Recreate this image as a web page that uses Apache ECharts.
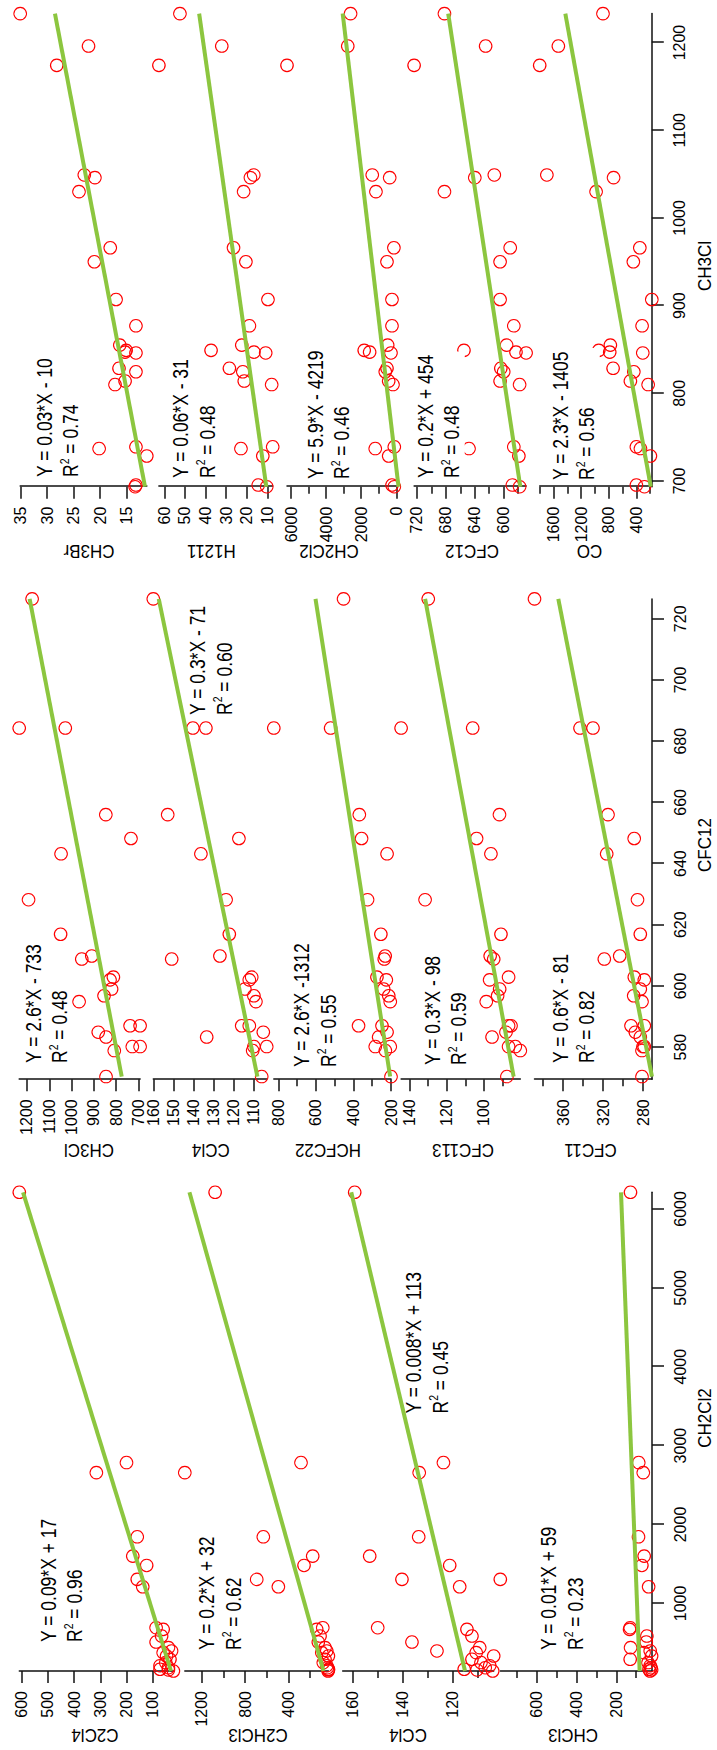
<!DOCTYPE html>
<html>
<head>
<meta charset="utf-8">
<title>Trace gas correlations</title>
<script src="https://cdn.jsdelivr.net/npm/echarts@6/dist/echarts.min.js"></script>
<style>
  html, body { margin: 0; padding: 0; background: #fff; width: 717px; height: 1750px; overflow: hidden; }
  /* the figure is laid out landscape (1750 x 717) and turned a quarter turn counter-clockwise */
  #chart { position: absolute; left: 0; top: 0; width: 1750px; height: 717px;
           transform-origin: 0 0; transform: translate(0, 1750px) rotate(-90deg); }
</style>
</head>
<body>
<div id="chart"></div>
<script>
// ---------------- Column 1: species versus CH2Cl2 ----------------
const ch2cl2 = [6211, 2785, 2658, 1844, 1599, 1481, 1304, 1211, 692, 671, 586, 510, 439, 397, 376, 333, 291, 250, 210, 185, 165, 156, 143];
const c2cl4 = [609, 200, 315, 159, 176, 123, 159, 138, 87, 60, 66, 87, 40, 28, 60, 47, 34, 50, 72, 40, 72, 40, 21];
const c2hcl3 = [1076, 283, 1356, 631, 175, 255, 692, 492, 82, 138, 107, 123, 61, 45, 91, 30, 61, 77, 45, 38, 30, 30, 33];
const ccl4VsCh2cl2 = [159.2, 123.7, 133.4, 133.6, 153.2, 121.2, 140.3, 117.2, 150, 114.3, 112.3, 136.3, 109.2, 126.3, 110.6, 103.6, 112.3, 108.7, 105.2, 107, 115.4, 110.3, 104];
const chcl3 = [128.5, 87, 64, 88, 59.5, 71, 785, 37, 130, 133, 46, 49, 128, 29, 60, 22, 130, 40, 29, 25, 35, 22, 30];

// ---------------- Column 2: species versus CFC12 ----------------
const cfc12 = [726.5, 684.3, 684.3, 656, 648.2, 643.2, 628.2, 616.9, 609.8, 608.8, 602.9, 602, 599, 596.8, 594.9, 587, 587, 584.9, 583.3, 580.2, 580.2, 578.9, 570.4];
const ch3clVsCfc12 = [1177, 1235, 1028, 846, 733, 1047, 1193, 1049, 909, 954, 812, 827, 820, 854, 966, 737, 692, 880, 845, 727, 692, 808, 845];
const ccl4VsCfc12 = [160, 140.2, 133.7, 152.8, 117.2, 136.2, 123.6, 122, 126.7, 150.8, 110.8, 112, 114.2, 109.7, 108.7, 115.8, 112, 105, 133.3, 109.7, 103.3, 110.3, 105.8];
const hcfc22 = [453, 825, 522, 369, 357, 221, 325, 254, 231, 236, 275, 225, 239, 212, 204, 373, 248, 221, 266, 204, 284, 230, 200];
const cfc113 = [129.9, 144.5, 106, 91.6, 103.9, 96.2, 131.6, 90.8, 96.6, 94.7, 86.7, 96.9, 91.5, 92.6, 98.7, 85.4, 86.7, 88.1, 95.6, 86.7, 83.1, 80.4, 87.6];
const cfc11 = [388.5, 343, 330, 315, 288.8, 316.3, 285.5, 282.7, 303.3, 318.7, 288.7, 278.7, 282.7, 289.3, 281, 292, 278.7, 287.7, 282.7, 278.7, 280, 281, 281];

// ---------------- Column 3: species versus CH3Cl ----------------
const ch3cl = [1233, 1196, 1174, 1049, 1046, 1030, 966, 950, 907, 877, 855, 849, 847, 846, 828.5, 824.6, 814, 810, 739, 737, 728.5, 695.4, 693.5];
const ch3br = [35.1, 22.2, 28.2, 23.0, 21.0, 24.0, 18.1, 21.1, 17.0, 13.25, 16.3, 15.1, 15.3, 13.25, 16.45, 13.25, 15.3, 17.2, 13.25, 20.2, 11.2, 13.25, 13.4];
const h1211 = [52.4, 32.1, 62.6, 16.6, 18.2, 21.5, 26.4, 20.4, 9.7, 18.7, 22.4, 37.3, 16.5, 10.8, 28.4, 21.9, 21.2, 7.9, 7.4, 22.8, 12.2, 14.4, 10.3];
const ch2cl2VsCh3cl = [2606, 2766, 6229, 1371, 377, 1160, 137, 531, 246, 246, 491, 1829, 1520, 303, 531, 629, 434, 189, 114, 1200, 434, 246, 114];
const cfc12VsCh3cl = [682, 625, 724, 613, 640, 682, 591, 605, 605, 586, 596, 655, 583, 569, 604, 600, 605, 578, 586, 648, 579, 588, 578];
const co = [884, 1532, 1803, 1699, 730, 984, 349, 443, 175, 316, 777, 945, 786, 306, 737, 436, 486, 228, 399, 340, 195, 399, 282];

// ---------------- axis ranges and tick values ----------------
const ch2cl2Range = [143, 6211];
const cfc12Range = [569.5, 726.5];
const ch3clRange = [693.5, 1233];
const ch2cl2Ticks = [1000, 2000, 3000, 4000, 5000, 6000];
const cfc12Ticks = [580, 600, 620, 640, 660, 680, 700, 720];
const ch3clTicks = [700, 800, 900, 1000, 1100, 1200];

const c2cl4Range = [21, 609],      c2cl4Ticks = [100, 200, 300, 400, 500, 600],  c2cl4Minor = [];
const c2hcl3Range = [30, 1356],    c2hcl3Ticks = [400, 800, 1200],               c2hcl3Minor = [200, 600, 1000];
const ccl4ARange = [103.6, 164],   ccl4ATicks = [120, 140, 160],                 ccl4AMinor = [110, 130, 150];
const chcl3Range = [20, 785],      chcl3Ticks = [200, 400, 600],                 chcl3Minor = [100, 300, 500, 700];

const ch3clBRange = [692, 1235],   ch3clBTicks = [700, 800, 900, 1000, 1100, 1200], ch3clBMinor = [];
const ccl4BRange = [103.3, 160],   ccl4BTicks = [110, 120, 130, 140, 150, 160],     ccl4BMinor = [];
const hcfc22Range = [200, 825],    hcfc22Ticks = [200, 400, 600, 800],              hcfc22Minor = [300, 500, 700];
const cfc113Range = [80.4, 144.5], cfc113Ticks = [80, 100, 120, 140],               cfc113Minor = [90, 110, 130];
const cfc11Range = [271, 388.5],   cfc11Ticks = [280, 320, 360],                    cfc11Minor = [300, 340, 380];

const ch3brRange = [11.2, 35.1],   ch3brTicks = [15, 20, 25, 30, 35],              ch3brMinor = [];
const h1211Range = [7.4, 62.6],    h1211Ticks = [10, 20, 30, 40, 50, 60],          h1211Minor = [];
const ch2cl2CRange = [0, 6229],    ch2cl2CTicks = [0, 2000, 4000, 6000],           ch2cl2CMinor = [1000, 3000, 5000];
const cfc12CRange = [569, 724],    cfc12CTicks = [600, 640, 680, 720],             cfc12CMinor = [580, 620, 660, 700];
const coRange = [175, 1803],       coTicks = [400, 800, 1200, 1600],               coMinor = [200, 600, 1000, 1400, 1800];

// ---------------- least-squares fits: [slope, intercept] and their printed labels ----------------
const c2cl4Fit = [0.093, 17],      c2cl4Label = ['Y = 0.09*X + 17', '0.96'];
const c2hcl3Fit = [0.204, 46],     c2hcl3Label = ['Y = 0.2*X + 32', '0.62'];
const ccl4AFit = [0.0075, 114],    ccl4ALabel = ['Y = 0.008*X + 113', '0.45'];
const chcl3Fit = [0.0155, 80],     chcl3Label = ['Y = 0.01*X + 59', '0.23'];
const ch3clBFit = [2.65, -737],    ch3clBLabel = ['Y = 2.6*X - 733', '0.48'];
const ccl4BFit = [0.316, -72.3],   ccl4BLabel = ['Y = 0.3*X - 71', '0.60'];
const hcfc22Fit = [2.55, -1250],   hcfc22Label = ['Y = 2.6*X -1312', '0.55'];
const cfc113Fit = [0.305, -90],    cfc113Label = ['Y = 0.3*X - 98', '0.59'];
const cfc11Fit = [0.6, -71.2],     cfc11Label = ['Y = 0.6*X - 81', '0.82'];
const ch3brFit = [0.0315, -10.3],  ch3brLabel = ['Y = 0.03*X - 10', '0.74'];
const h1211Fit = [0.0604, -31.4],  h1211Label = ['Y = 0.06*X - 31', '0.48'];
const ch2cl2CFit = [5.9, -4219],   ch2cl2CLabel = ['Y = 5.9*X - 4219', '0.46'];
const cfc12CFit = [0.185, 448.7],  cfc12CLabel = ['Y = 0.2*X + 454', '0.48'];
const coFit = [2.3, -1405],        coLabel = ['Y = 2.3*X - 1405', '0.56'];

// ---------------- figure structure ----------------
const columns = [
  { title: 'CH2Cl2', x: ch2cl2, range: ch2cl2Range, ticks: ch2cl2Ticks },
  { title: 'CFC12',  x: cfc12,  range: cfc12Range,  ticks: cfc12Ticks },
  { title: 'CH3Cl',  x: ch3cl,  range: ch3clRange,  ticks: ch3clTicks }
];
const panels = [
  { col: 0, title: 'C2Cl4',  y: c2cl4,         range: c2cl4Range,  ticks: c2cl4Ticks,  minor: c2cl4Minor,  fit: c2cl4Fit,  label: c2cl4Label },
  { col: 0, title: 'C2HCl3', y: c2hcl3,        range: c2hcl3Range, ticks: c2hcl3Ticks, minor: c2hcl3Minor, fit: c2hcl3Fit, label: c2hcl3Label },
  { col: 0, title: 'CCl4',   y: ccl4VsCh2cl2,  range: ccl4ARange,  ticks: ccl4ATicks,  minor: ccl4AMinor,  fit: ccl4AFit,  label: ccl4ALabel },
  { col: 0, title: 'CHCl3',  y: chcl3,         range: chcl3Range,  ticks: chcl3Ticks,  minor: chcl3Minor,  fit: chcl3Fit,  label: chcl3Label },
  { col: 1, title: 'CH3Cl',  y: ch3clVsCfc12,  range: ch3clBRange, ticks: ch3clBTicks, minor: ch3clBMinor, fit: ch3clBFit, label: ch3clBLabel },
  { col: 1, title: 'CCl4',   y: ccl4VsCfc12,   range: ccl4BRange,  ticks: ccl4BTicks,  minor: ccl4BMinor,  fit: ccl4BFit,  label: ccl4BLabel },
  { col: 1, title: 'HCFC22', y: hcfc22,        range: hcfc22Range, ticks: hcfc22Ticks, minor: hcfc22Minor, fit: hcfc22Fit, label: hcfc22Label },
  { col: 1, title: 'CFC113', y: cfc113,        range: cfc113Range, ticks: cfc113Ticks, minor: cfc113Minor, fit: cfc113Fit, label: cfc113Label },
  { col: 1, title: 'CFC11',  y: cfc11,         range: cfc11Range,  ticks: cfc11Ticks,  minor: cfc11Minor,  fit: cfc11Fit,  label: cfc11Label },
  { col: 2, title: 'CH3Br',  y: ch3br,         range: ch3brRange,  ticks: ch3brTicks,  minor: ch3brMinor,  fit: ch3brFit,  label: ch3brLabel },
  { col: 2, title: 'H1211',  y: h1211,         range: h1211Range,  ticks: h1211Ticks,  minor: h1211Minor,  fit: h1211Fit,  label: h1211Label },
  { col: 2, title: 'CH2Cl2', y: ch2cl2VsCh3cl, range: ch2cl2CRange, ticks: ch2cl2CTicks, minor: ch2cl2CMinor, fit: ch2cl2CFit, label: ch2cl2CLabel },
  { col: 2, title: 'CFC12',  y: cfc12VsCh3cl,  range: cfc12CRange, ticks: cfc12CTicks, minor: cfc12CMinor, fit: cfc12CFit, label: cfc12CLabel },
  { col: 2, title: 'CO',     y: co,            range: coRange,     ticks: coTicks,     minor: coMinor,     fit: coFit,     label: coLabel }
];

// ---------------- layout (pixels in the landscape frame) ----------------
// plot left/width of each column, centre of its x-axis title, and the x position of the y-axis titles
const colLayout = [
  { left: 79.0,   width: 478.7, xTitle: [332, 705],   yTitleX: 14.5 },
  { left: 670.7,  width: 480.4, xTitle: [905, 705],   yTitleX: 599.7 },
  { left: 1263.3, width: 473.1, xTitle: [1484, 705],  yTitleX: 1198.5 }
];
// plot top/bottom of every panel, centre of its y-axis title,
// the equation anchor (left edge, centre of first line) and whether the equation box is opaque
const panelLayout = [
  { top: 19.3,  bottom: 173.4, yTitle: 95,    eq: [108, 48.3] },
  { top: 184.8, bottom: 328.4, yTitle: 258,   eq: [100, 206.7] },
  { top: 342.7, bottom: 493.7, yTitle: 408,   eq: [336.5, 413.6] },
  { top: 500.3, bottom: 652.0, yTitle: 573,   eq: [100, 548.7] },
  { top: 19.2,  bottom: 140.1, yTitle: 89,    eq: [687, 33.3] },
  { top: 153.3, bottom: 266.7, yTitle: 210.8, eq: [1035, 197.6] },
  { top: 273.8, bottom: 391.0, yTitle: 328,   eq: [683, 301.7] },
  { top: 401.1, bottom: 520.3, yTitle: 463,   eq: [685, 432] },
  { top: 534.5, bottom: 652.0, yTitle: 590.5, eq: [687, 560.3] },
  { top: 20.2,  bottom: 146.8, yTitle: 89,    eq: [1273, 44] },
  { top: 158.9, bottom: 272.7, yTitle: 211.4, eq: [1272, 180.7] },
  { top: 287.0, bottom: 396.3, yTitle: 329,   eq: [1271, 315] },
  { top: 414.1, bottom: 526.1, yTitle: 472,   eq: [1272, 425.3], opaque: true },
  { top: 539.7, bottom: 651.8, yTitle: 589.5, eq: [1270, 560.3], opaque: true }
];

const FONT = '"Liberation Sans", Arial, Helvetica, sans-serif';
const INK = '#111111';
const AXIS_LINE = { color: INK, width: 1.5 };
const TICK_FONT = 16;
const TITLE_FONT = 17;
const TITLE_STRETCH = 1.1;    // the lettering is a little taller than it is wide
const EQ_FONT = 17.5;
const EQ_STRETCH = 1.22;
const EQ_LINE = 26.3 / EQ_STRETCH;
const plain = v => String(v);

const option = {
  animation: false,
  backgroundColor: '#ffffff',
  textStyle: { fontFamily: FONT },
  grid: [], xAxis: [], yAxis: [], series: [], graphic: []
};

function titleText(text, cx, cy, vertical) {
  return {
    type: 'text', silent: true, z: 100,
    x: cx, y: cy, rotation: vertical ? Math.PI / 2 : 0, scaleY: TITLE_STRETCH,
    style: { text: text, fontSize: TITLE_FONT, fontFamily: FONT, fill: '#000',
             align: 'center', verticalAlign: 'middle' }
  };
}

panels.forEach((p, i) => {
  const col = columns[p.col];
  const cl = colLayout[p.col];
  const pl = panelLayout[i];
  const isBottom = (i === panels.length - 1) || panels[i + 1].col !== p.col;

  option.grid.push({
    left: cl.left, width: cl.width, top: pl.top, height: pl.bottom - pl.top,
    containLabel: false, outerBoundsMode: 'none'
  });

  option.xAxis.push({
    type: 'value', gridIndex: i, min: col.range[0], max: col.range[1],
    show: isBottom, position: 'bottom',
    axisLine: { show: true, onZero: false, lineStyle: AXIS_LINE },
    axisTick: { show: true, customValues: col.ticks, length: 12, lineStyle: AXIS_LINE },
    axisLabel: { show: true, customValues: col.ticks, margin: 20, fontSize: TICK_FONT,
                 color: '#000', fontFamily: FONT, formatter: plain },
    splitLine: { show: false }
  });

  const yIndex = option.yAxis.length;
  option.yAxis.push({
    type: 'value', gridIndex: i, min: p.range[0], max: p.range[1], position: 'left',
    axisLine: { show: true, onZero: false, lineStyle: AXIS_LINE },
    axisTick: { show: true, customValues: p.ticks, length: 12, lineStyle: AXIS_LINE },
    axisLabel: { show: true, customValues: p.ticks, margin: 20, fontSize: TICK_FONT,
                 color: '#000', fontFamily: FONT, formatter: plain },
    splitLine: { show: false }
  });
  if (p.minor.length) {
    // shorter unlabeled ticks between the labeled ones
    option.yAxis.push({
      type: 'value', gridIndex: i, min: p.range[0], max: p.range[1], position: 'left',
      axisLine: { show: false },
      axisTick: { show: true, customValues: p.minor, length: 7, lineStyle: AXIS_LINE },
      axisLabel: { show: false },
      splitLine: { show: false }
    });
  }

  option.series.push({
    type: 'scatter', xAxisIndex: i, yAxisIndex: yIndex,
    data: col.x.map((xv, k) => [xv, p.y[k]]),
    symbol: 'circle', symbolSize: 12.5,
    itemStyle: { color: 'rgba(255,255,255,0)', borderColor: '#ff0000', borderWidth: 1.1, opacity: 1 },
    clip: false, silent: true, z: 2
  });

  const x0 = Math.min(...col.x), x1 = Math.max(...col.x);
  option.series.push({
    type: 'line', xAxisIndex: i, yAxisIndex: yIndex,
    data: [[x0, p.fit[0] * x0 + p.fit[1]], [x1, p.fit[0] * x1 + p.fit[1]]],
    symbol: 'none', lineStyle: { color: '#8cc63f', width: 4, cap: 'butt' },
    clip: false, silent: true, z: 3
  });

  // fit equation and coefficient of determination
  const eqStyle = {
    text: '{t|' + p.label[0] + '}\n{t|R}{s|2}{t| = ' + p.label[1] + '}',
    rich: {
      t: { fontSize: EQ_FONT, fontFamily: FONT, lineHeight: EQ_LINE, fill: '#000' },
      s: { fontSize: 10.5, fontFamily: FONT, lineHeight: 12, verticalAlign: 'top', fill: '#000' }
    },
    x: pl.opaque ? -3 : 0, y: -EQ_LINE / 2,
    fill: '#000', align: 'left', verticalAlign: 'top'
  };
  if (pl.opaque) { eqStyle.backgroundColor = '#ffffff'; eqStyle.padding = [0, 3, 0, 3]; }
  option.graphic.push({
    type: 'text', silent: true, z: 100,
    x: pl.eq[0], y: pl.eq[1], scaleY: EQ_STRETCH,
    style: eqStyle
  });

  // y-axis title, reading upward along the axis
  option.graphic.push(titleText(p.title, cl.yTitleX, pl.yTitle, true));
  if (isBottom) {
    option.graphic.push(titleText(col.title, cl.xTitle[0], cl.xTitle[1], false));
  }
});

const chart = echarts.init(document.getElementById('chart'), null, { renderer: 'svg', width: 1750, height: 717 });
chart.setOption(option);
</script>
</body>
</html>
